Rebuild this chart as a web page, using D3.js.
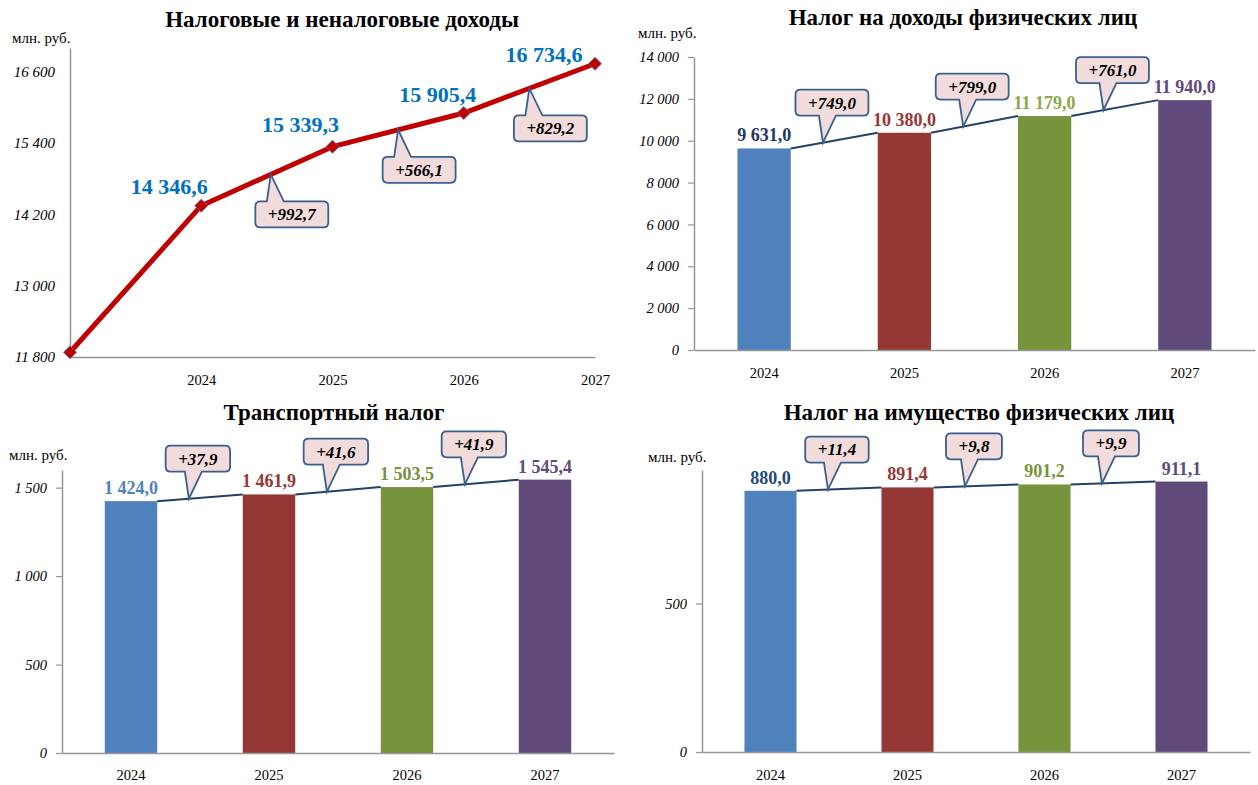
<!DOCTYPE html>
<html><head><meta charset="utf-8">
<script src="https://cdn.jsdelivr.net/npm/d3@7"></script>
<style>
body{margin:0;background:#fff} svg{display:block}
svg text{font-family:"Liberation Serif","Times New Roman",serif}
</style>
</head><body>
<svg id="c" width="1258" height="785"></svg>
<script>
// ---------- DATA ----------
const years = ["2024", "2025", "2026", "2027"];

const revTitle = "Налоговые и неналоговые доходы";
const revCategories = ["", "2024", "2025", "2026", "2027"];
const revValues = [11880, 14346.6, 15339.3, 15905.4, 16734.6];
const revDeltas = ["+992,7", "+566,1", "+829,2"];
const revTicks = [11800, 13000, 14200, 15400, 16600];

const ndflTitle = "Налог на доходы физических лиц";
const ndflValues = [9631.0, 10380.0, 11179.0, 11940.0];
const ndflDeltas = ["+749,0", "+799,0", "+761,0"];
const ndflTicks = [0, 2000, 4000, 6000, 8000, 10000, 12000, 14000];

const transTitle = "Транспортный налог";
const transValues = [1424.0, 1461.9, 1503.5, 1545.4];
const transDeltas = ["+37,9", "+41,6", "+41,9"];
const transTicks = [0, 500, 1000, 1500];

const propTitle = "Налог на имущество физических лиц";
const propValues = [880.0, 891.4, 901.2, 911.1];
const propDeltas = ["+11,4", "+9,8", "+9,9"];
const propTicks = [0, 500];

const unitLabel = "млн. руб.";

// ---------- STYLE ----------
const barColors = ["#4F81BD", "#953735", "#77933C", "#604A7B"];
const AXIS = "#969696";
const loc = d3.formatLocale({decimal: ",", thousands: " ", grouping: [3], currency: ["", ""]});
const fmt1 = loc.format(",.1f");
const fmt0 = loc.format(",.0f");

const svg = d3.select("#c");

function addTitle(text, cx, y) {
  svg.append("text").attr("x", cx).attr("y", y).attr("text-anchor", "middle")
    .attr("font-weight", "bold").attr("font-size", 23)
    .attr("fill", "#000").text(text);
}
function addUnit(x, y) {
  svg.append("text").attr("x", x).attr("y", y)
    .attr("font-size", 15).attr("fill", "#000").text(unitLabel);
}

function callout(g, tx, ty, text, above, dx) {
  const path = g.append("path").attr("fill", "#F2DCDB").attr("stroke", "#3B5F8C").attr("stroke-width", 1.8);
  const t = g.append("text").attr("font-weight", "bold")
    .attr("font-style", "italic").attr("font-size", 17).attr("text-anchor", "middle")
    .attr("fill", "#000").text(text);
  const tw = t.node().getComputedTextLength();
  const w = tw + 25, h = 26, r = 5;
  const cx = tx + dx;
  const x0 = cx - w / 2, x1 = cx + w / 2;
  let y0, y1;
  const b1 = tx - 4, b2 = tx + 13;
  let d;
  if (above) {
    y1 = ty - 27; y0 = y1 - h;
    d = `M${x0 + r},${y0} H${x1 - r} Q${x1},${y0} ${x1},${y0 + r} V${y1 - r} Q${x1},${y1} ${x1 - r},${y1}` +
        ` H${b2} L${tx},${ty} L${b1},${y1} H${x0 + r} Q${x0},${y1} ${x0},${y1 - r} V${y0 + r} Q${x0},${y0} ${x0 + r},${y0} Z`;
  } else {
    y0 = ty + 27; y1 = y0 + h;
    d = `M${x0 + r},${y0} H${b1} L${tx},${ty} L${b2},${y0} H${x1 - r} Q${x1},${y0} ${x1},${y0 + r} V${y1 - r}` +
        ` Q${x1},${y1} ${x1 - r},${y1} H${x0 + r} Q${x0},${y1} ${x0},${y1 - r} V${y0 + r} Q${x0},${y0} ${x0 + r},${y0} Z`;
  }
  path.attr("d", d);
  t.attr("x", cx).attr("y", (y0 + y1) / 2).attr("dy", "0.35em");
}

function styleAxis(sel) {
  sel.attr("font-family", null);
  sel.select(".domain").attr("stroke", AXIS).attr("stroke-width", 1.5);
  sel.selectAll(".tick line").attr("stroke", AXIS).attr("stroke-width", 1.2);
  sel.selectAll("text").attr("fill", "#000");
}

// ---------- CHART 1: line ----------
(function () {
  const L = {x0: 70, x1: 595, yb: 357, yt: 48};
  addTitle(revTitle, 342, 27);
  addUnit(12, 43);
  const g = svg.append("g");
  const x = d3.scalePoint().domain(revCategories).range([L.x0, L.x1]);
  const y = d3.scaleLinear().domain([11800, 17000]).range([L.yb, L.yt]);
  const ya = g.append("g").attr("transform", `translate(${L.x0},0)`)
    .call(d3.axisLeft(y).tickValues(revTicks).tickSize(0).tickSizeOuter(0).tickPadding(15).tickFormat(fmt0));
  styleAxis(ya);
  ya.attr("font-size", 15).selectAll("text").attr("font-style", "italic");
  const xa = g.append("g").attr("transform", `translate(0,${L.yb})`)
    .call(d3.axisBottom(x).tickSize(0).tickSizeOuter(0).tickPadding(18));
  styleAxis(xa);
  xa.attr("font-size", 14.5);

  const pts = revValues.map((v, i) => [x(revCategories[i]), y(v)]);
  g.append("path").attr("d", d3.line()(pts)).attr("fill", "none")
    .attr("stroke", "#C00000").attr("stroke-width", 5).attr("stroke-linejoin", "round");
  g.selectAll(".mk").data(pts).enter().append("path")
    .attr("d", d3.symbol().type(d3.symbolSquare).size(85)())
    .attr("transform", d => `translate(${d[0]},${d[1]}) rotate(45)`)
    .attr("fill", "#C00000").attr("stroke", "#5A6FA8").attr("stroke-width", 0.8);

  const labelOffsets = [null, [-32, -12], [-32, -15], [-26, -11], [-51, -2]];
  revValues.forEach((v, i) => {
    if (!revCategories[i]) return;
    g.append("text").attr("x", pts[i][0] + labelOffsets[i][0]).attr("y", pts[i][1] + labelOffsets[i][1])
      .attr("text-anchor", "middle").attr("font-weight", "bold")
      .attr("font-size", 22).attr("fill", "#0070C0").text(fmt1(v));
  });
  const tFrac = [0.53, 0.5, 0.5];
  revDeltas.forEach((d, i) => {
    const a = pts[i + 1], b = pts[i + 2];
    const t = tFrac[i];
    callout(g, a[0] + (b[0] - a[0]) * t, a[1] + (b[1] - a[1]) * t, d, false, 21);
  });
})();

// ---------- BAR CHARTS ----------
function barChart(cfg) {
  addTitle(cfg.title, cfg.titleX, cfg.titleY);
  addUnit(cfg.unitX, cfg.unitY);
  const g = svg.append("g");
  const pi = 0.62;
  const x = d3.scaleBand().domain(years).range([cfg.x0, cfg.x1]).paddingInner(pi).paddingOuter(pi / 2);
  const y = d3.scaleLinear().domain([0, cfg.max]).range([cfg.yb, cfg.yt]);
  const ya = g.append("g").attr("transform", `translate(${cfg.x0},0)`)
    .call(d3.axisLeft(y).tickValues(cfg.ticks).tickSize(6).tickSizeOuter(0).tickPadding(9).tickFormat(fmt0));
  styleAxis(ya);
  ya.attr("font-size", 14.5).selectAll("text").attr("font-style", "italic");

  g.selectAll(".bar").data(cfg.values).enter().append("rect")
    .attr("x", (d, i) => x(years[i])).attr("width", x.bandwidth())
    .attr("y", d => y(d)).attr("height", d => cfg.yb - y(d))
    .attr("fill", (d, i) => barColors[i]);

  const xa = g.append("g").attr("transform", `translate(0,${cfg.yb})`)
    .call(d3.axisBottom(x).tickSize(0).tickSizeOuter(0).tickPadding(cfg.xPad));
  styleAxis(xa);
  xa.attr("font-size", 14.5);

  cfg.values.forEach((v, i) => {
    g.append("text").attr("x", x(years[i]) + x.bandwidth() / 2).attr("y", y(v) - 7)
      .attr("text-anchor", "middle").attr("font-weight", "bold")
      .attr("font-size", 18).attr("fill", cfg.labelColors[i]).text(fmt1(v));
  });
  for (let i = 0; i < cfg.values.length - 1; i++) {
    const ax = x(years[i]) + x.bandwidth(), ay = y(cfg.values[i]);
    const bx = x(years[i + 1]), by = y(cfg.values[i + 1]);
    g.append("line").attr("x1", ax).attr("y1", ay).attr("x2", bx).attr("y2", by)
      .attr("stroke", "#24406A").attr("stroke-width", 2);
    const t = 0.37;
    callout(g, ax + (bx - ax) * t, ay + (by - ay) * t, cfg.deltas[i], true, 9);
  }
}

barChart({title: ndflTitle, titleX: 963, titleY: 25, unitX: 638, unitY: 38,
  x0: 694, x1: 1255, yb: 350, yt: 57, max: 14000, ticks: ndflTicks, values: ndflValues,
  deltas: ndflDeltas, xPad: 18, labelColors: ["#1F3864", "#953735", "#8AA84A", "#604A7B"]});

barChart({title: transTitle, titleX: 334, titleY: 420, unitX: 9, unitY: 460,
  x0: 62, x1: 614, yb: 753, yt: 470, max: 1600, ticks: transTicks, values: transValues,
  deltas: transDeltas, xPad: 17, labelColors: ["#4F81BD", "#953735", "#77933C", "#604A7B"]});

barChart({title: propTitle, titleX: 979, titleY: 420, unitX: 648, unitY: 462,
  x0: 702, x1: 1250, yb: 752, yt: 470, max: 950, ticks: propTicks, values: propValues,
  deltas: propDeltas, xPad: 18, labelColors: ["#1F497D", "#953735", "#77933C", "#604A7B"]});
</script>
</body></html>
